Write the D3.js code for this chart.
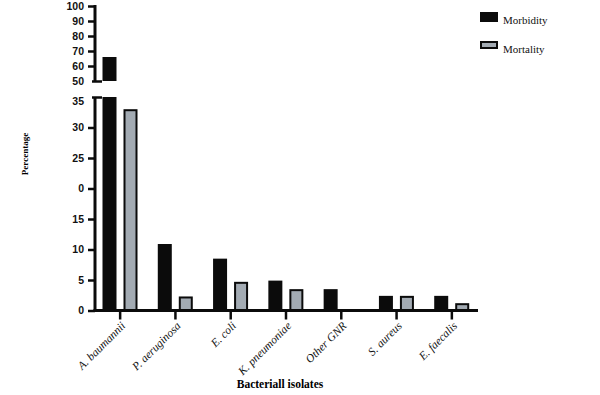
<!DOCTYPE html>
<html>
<head>
<meta charset="utf-8">
<script src="https://cdn.jsdelivr.net/npm/d3@7"></script>
<style>
  body { margin: 0; background: #fff; }
  svg { display: block; }
  .tick text { font-family: "Liberation Sans", Arial, sans-serif; font-weight: bold; font-size: 10.5px; fill: #111; }
</style>
</head>
<body>
<svg id="chart" width="600" height="395"></svg>
<script>
const categories = ["A. baumannii", "P. aeruginosa", "E. coli", "K. pneumoniae", "Other GNR", "S. aureus", "E. faecalis"];
const morbidity = [66, 10.9, 8.5, 4.9, 3.5, 2.4, 2.4];
const mortality = [33, 2.3, 4.7, 3.5, 0, 2.4, 1.2];
const lowTicks = [0, 5, 10, 15, 20, 25, 30, 35];
const lowLabels = ["0", "5", "10", "15", "0", "25", "30", "35"];
const highTicks = [50, 60, 70, 80, 90, 100];
const series = ["Morbidity", "Mortality"];

const black = "#0b0b0b", gray = "#a3abb3";
const svg = d3.select("#chart");

const axisX = 95;
const x = d3.scaleBand().domain(categories).range([92.5, 479.5]);
const sub = d3.scaleBand().domain(series).range([10, 45]).paddingInner(1 / 3);
const yLow = d3.scaleLinear().domain([0, 35]).range([310.5, 97]);
const yHigh = d3.scaleLinear().domain([50, 100]).range([81, 6]);

const rows = categories.map((c, i) => ({ c, morb: morbidity[i], mort: mortality[i] }));

// morbidity bars (lower segment, clipped at 35)
svg.append("g").selectAll("rect").data(rows).join("rect")
  .attr("x", d => x(d.c) + sub("Morbidity"))
  .attr("width", sub.bandwidth())
  .attr("y", d => yLow(Math.min(d.morb, 35)))
  .attr("height", d => yLow(0) - yLow(Math.min(d.morb, 35)))
  .attr("fill", black);

// morbidity bars (upper segment)
svg.append("g").selectAll("rect").data(rows.filter(d => d.morb > 50)).join("rect")
  .attr("x", d => x(d.c) + sub("Morbidity"))
  .attr("width", sub.bandwidth())
  .attr("y", d => yHigh(d.morb))
  .attr("height", d => yHigh(50) - yHigh(d.morb))
  .attr("fill", black);

// mortality bars
svg.append("g").selectAll("rect").data(rows.filter(d => d.mort > 0)).join("rect")
  .attr("x", d => x(d.c) + sub("Mortality") + 1)
  .attr("width", sub.bandwidth() - 2)
  .attr("y", d => yLow(d.mort) + 1)
  .attr("height", d => yLow(0) - yLow(d.mort) - 1)
  .attr("fill", gray)
  .attr("stroke", black)
  .attr("stroke-width", 2);

// lower y axis
const gLow = svg.append("g").attr("transform", `translate(${axisX},0)`)
  .call(d3.axisLeft(yLow).tickValues(lowTicks).tickSize(7).tickPadding(4)
    .tickFormat((d, i) => lowLabels[i]));
gLow.select(".domain").remove();
gLow.selectAll(".tick line").attr("stroke", black).attr("stroke-width", 2.5);
gLow.selectAll(".tick").filter(d => d === 35).select("line").attr("x1", -3).attr("x2", 7);
gLow.selectAll(".tick").filter(d => d === 35).select("text").attr("dy", "0.7em");
gLow.append("line").attr("x1", 0).attr("x2", 0).attr("y1", yLow(35)).attr("y2", yLow(0) + 1.5)
  .attr("stroke", black).attr("stroke-width", 3);

// upper y axis
const gHigh = svg.append("g").attr("transform", `translate(${axisX},0)`)
  .call(d3.axisLeft(yHigh).tickValues(highTicks).tickSize(7).tickPadding(4));
gHigh.select(".domain").remove();
gHigh.selectAll(".tick line").attr("stroke", black).attr("stroke-width", 2.5);
gHigh.selectAll(".tick").filter(d => d === 50).select("line").attr("x1", -3).attr("x2", 7);
gHigh.append("line").attr("x1", 0).attr("x2", 0).attr("y1", yHigh(100) - 1).attr("y2", yHigh(50))
  .attr("stroke", black).attr("stroke-width", 3);

// x axis
const gX = svg.append("g").attr("transform", `translate(0,${yLow(0)})`)
  .call(d3.axisBottom(x).tickSize(9).tickPadding(4));
gX.select(".domain").remove();
gX.selectAll(".tick line").attr("stroke", black).attr("stroke-width", 2.5);
gX.append("line").attr("x1", axisX - 1.5).attr("x2", 478).attr("y1", 0).attr("y2", 0)
  .attr("stroke", black).attr("stroke-width", 3);
gX.selectAll(".tick text")
  .attr("text-anchor", "end")
  .attr("transform", "translate(6,16) rotate(-45)")
  .attr("dy", 0).attr("y", 0)
  .style("font-family", "'Liberation Serif', serif")
  .style("font-style", "italic")
  .style("font-weight", "normal")
  .style("font-size", "11.5px");

// axis titles
svg.append("text").attr("x", 280).attr("y", 388).attr("text-anchor", "middle")
  .style("font-family", "'Liberation Serif', serif").style("font-weight", "bold").style("font-size", "11.5px")
  .text("Bacteriall isolates");
svg.append("text").attr("transform", "translate(28,154) rotate(-90)").attr("text-anchor", "middle")
  .style("font-family", "'Liberation Serif', serif").style("font-weight", "bold").style("font-size", "9px")
  .text("Percentage");

// legend
const legend = svg.append("g");
legend.append("rect").attr("x", 480).attr("y", 12).attr("width", 18).attr("height", 10).attr("fill", black);
legend.append("rect").attr("x", 481).attr("y", 42).attr("width", 16).attr("height", 6)
  .attr("fill", gray).attr("stroke", black).attr("stroke-width", 2);
legend.selectAll("text.lg").data(series).join("text").attr("class", "lg")
  .attr("x", 503).attr("y", (d, i) => 24 + i * 29)
  .style("font-family", "'Liberation Serif', serif").style("font-size", "11px").style("fill", "#111")
  .text(d => d);
</script>
</body>
</html>
